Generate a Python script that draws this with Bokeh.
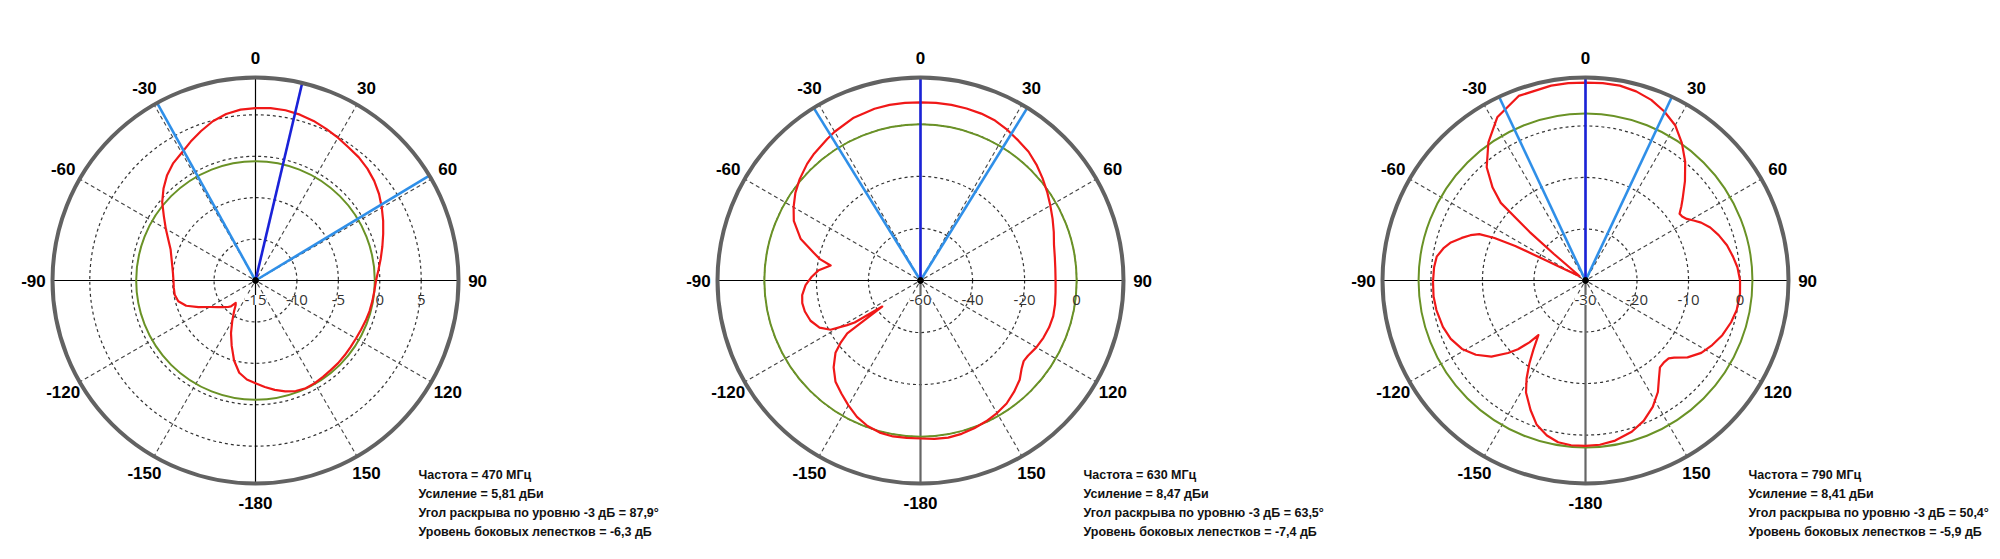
import numpy as np
from bokeh.plotting import figure
from bokeh.models import ColumnDataSource, LabelSet, Range1d
from bokeh.layouts import row
from bokeh.embed import file_html
from bokeh.resources import INLINE
from bokeh.core.properties import value

# ---------------- data ----------------
# angles in degrees, clockwise from 0 (top); levels in dB
ang_470 = [0, 5, 10, 15, 20, 25, 30, 35, 40, 45, 50, 55, 60, 65, 70, 75, 80, 85, 90, 95, 100,
           105, 110, 115, 120, 125, 130, 135, 140, 145, 150, 155, 160, 165, 170, 175, 180, 185,
           190, 195, 200, 205, 210, 215, 219, 221.6, 223.5, 226, 230, 235, 240, 245, 250, 255,
           260, 265, 270, 275, 280, 285, 290, 295, 300, 305, 310, 315, 320, 325, 330, 335, 340,
           345, 350, 355]
db_470 = [5.81, 5.88, 5.86, 5.72, 5.5, 5.2, 4.9, 4.6, 4.4, 4.1, 3.7, 3.2, 2.6, 2.0, 1.4, 0.85,
          0.35, -0.1, -0.45, -0.6, -0.68, -0.75, -0.85, -0.95, -1.0, -1.0, -0.95, -0.9, -0.88,
          -0.8, -0.7, -0.65, -0.8, -1.15, -1.6, -2.1, -2.6, -3.0, -3.7, -5.0, -6.6, -8.0, -9.4,
          -10.5, -11.2, -11.4, -10.7, -10.4, -10.0, -9.4, -8.6, -7.4, -6.1, -5.35, -5.1, -5.1,
          -5.1, -5.0, -4.8, -4.5, -4.1, -3.4, -2.5, -1.5, -0.3, 0.7, 1.6, 2.3, 2.8, 3.5, 4.2,
          4.9, 5.4, 5.7]

ang_630 = [0, 5, 10, 15, 20, 25, 30, 35, 40, 45, 50, 55, 60, 65, 70, 75, 80, 85, 90, 95, 100,
           105, 110, 115, 120, 125, 128, 131, 135, 140, 145, 150, 155, 160, 165, 170, 175, 180,
           185, 190, 195, 200, 205, 210, 215, 220, 225, 229.6, 232, 234.2, 235.8, 237.5, 238.7,
           241.3, 245, 249.9, 255, 259.2, 263, 267.7, 272, 275.8, 279.5, 282, 284.5, 289.2,
           295.2, 300, 305, 310, 315.8, 320, 326.6, 330, 337.7, 345, 350, 355]
db_630 = [8.47, 8.5, 8.5, 8.4, 8.25, 7.8, 6.8, 5.6, 4.6, 3.0, 1.2, -0.6, -2.4, -4.0, -5.5, -6.9,
          -7.6, -8.0, -8.1, -7.9, -7.5, -7.2, -7.4, -7.9, -8.6, -9.6, -9.7, -8.5, -6.1, -4.1,
          -2.3, -1.2, -0.3, 0.4, 1.0, 1.3, 1.1, 0.7, 0.7, 0.85, 0.5, -0.5, -2.2, -4.6, -7.0,
          -9.2, -12.8, -17.1, -21.0, -25.3, -42.2, -30.0, -27.0, -20.6, -17.2, -15.0, -14.0,
          -13.75, -14.2, -15.8, -18.2, -20.7, -25.0, -20.5, -17.7, -11.2, -6.2, -3.7, -1.3,
          0.6, 2.5, 3.6, 5.1, 6.0, 7.6, 8.3, 8.5, 8.5]

ang_790 = [0, 5, 10, 15, 20, 25, 30, 35, 40, 45, 50, 52.3, 54.6, 56.5, 58.7, 61, 63.4, 67, 71.2,
           76, 80.8, 85, 90, 95, 101, 106, 111.8, 117, 122, 127, 131, 133.1, 136, 139.4, 143,
           147, 152, 157.5, 163, 169.5, 175, 180, 185, 189.6, 194, 198.8, 203, 208, 211, 214,
           217, 220.8, 222.2, 224.5, 226.9, 231, 235.9, 241, 246.6, 252, 258.8, 264, 269.6,
           275, 279.1, 283, 285.8, 289, 291.5, 293.6, 295, 296.2, 297, 298, 300, 305, 308, 310,
           311, 312.5, 315, 318.9, 324.9, 331.6, 340.1, 350, 355]
db_790 = [8.41, 8.45, 8.4, 8.0, 7.3, 6.2, 4.8, 2.6, 0.1, -2.7, -5.4, -6.5, -7.6, -7.5, -7.0,
          -6.0, -4.9, -3.7, -2.7, -1.7, -1.0, -0.4, 0.0, 0.1, -0.1, -0.6, -1.4, -2.4, -3.5,
          -5.2, -7.2, -7.9, -8.0, -7.8, -6.3, -4.2, -2.2, -0.5, 0.7, 1.6, 2.0, 2.1, 2.1, 1.85,
          1.0, -0.5, -2.7, -5.4, -7.8, -10.5, -13.2, -16.0, -13.8, -11.3, -9.4, -6.5, -4.3,
          -2.6, -1.5, -0.9, -0.5, -0.35, -0.4, -0.5, -0.75, -1.8, -2.85, -4.6, -6.0, -7.5,
          -10.5, -14.8, -21.8, -24.7, -26.9, -28.6, -27.8, -22.0, -15.6, -7.7, -4.5, -0.83,
          2.78, 6.01, 8.1, 8.4, 8.45]

r_min = [-15, -60, -30]          # level at centre
r_max = [9.5, 18, 9.4]           # level at outer ring
ticks = [[-15, -10, -5, 0, 5], [-60, -40, -20, 0], [-30, -20, -10, 0]]
green_level = [-0.6, 0.0, 2.4]
beam_dir = [13.3, 0.0, 0.0]
hp_left = [-29.0, -31.75, -25.2]
hp_right = [58.9, 31.75, 25.2]

freq = ["470", "630", "790"]
gain = ["5,81", "8,47", "8,41"]
hpbw = ["87,9", "63,5", "50,4"]
sll = ["-6,3", "-7,4", "-5,9"]

angle_ticks = [0, 30, 60, 90, 120, 150, 180, 210, 240, 270, 300, 330]
angle_labels = ["0", "30", "60", "90", "120", "150", "-180", "-150", "-120", "-90", "-60", "-30"]

angles_all = [ang_470, ang_630, ang_790]
levels_all = [db_470, db_630, db_790]

# ---------------- drawing ----------------
R = 203.0                 # ring radius in px
widths = [673, 665, 660]
centres_x = [255, 247, 247]
CY = 280
H = 557


def polar(theta_deg, rn):
    t = np.radians(np.asarray(theta_deg, dtype=float))
    rn = np.asarray(rn, dtype=float)
    return rn * np.sin(t), rn * np.cos(t)


figs = []
for i in range(3):
    w = widths[i]
    CX = centres_x[i]
    lo, hi = r_min[i], r_max[i]
    norm = lambda v: (np.asarray(v, dtype=float) - lo) / (hi - lo)

    p = figure(width=w, height=H, output_backend="svg", toolbar_location=None,
               x_range=Range1d(-CX / R, (w - CX) / R),
               y_range=Range1d(-(H - CY) / R, CY / R),
               x_axis_location=None, y_axis_location=None, min_border=0)
    p.grid.visible = False
    p.outline_line_color = None
    p.background_fill_color = "white"
    p.border_fill_color = "white"

    # dashed level circles
    rings = [t for t in ticks[i] if t > lo]
    p.circle(x=[0] * len(rings), y=[0] * len(rings), radius=list(norm(rings)),
             fill_color=None, line_color="#333333", line_width=1.2, line_dash="3 3")

    # dashed spokes
    for a in [30, 60, 120, 150, 210, 240, 300, 330]:
        sx, sy = polar([a, a], [0.02, 1.0])
        p.line(sx, sy, line_color="#444444", line_width=1.1, line_dash="4 3")

    # axes lines
    p.line([-1, 1], [0, 0], line_color="black", line_width=1.2)
    p.line([0, 0], [0, 1], line_color="black", line_width=1.2)
    if i == 0:
        p.line([0, 0], [0, -1], line_color="black", line_width=1.2)
    else:
        p.line([0, 0], [0, -1], line_color="#666666", line_width=2.2)

    # green reference circle
    p.circle(x=[0], y=[0], radius=[float(norm(green_level[i]))], fill_color=None,
             line_color="#6a9226", line_width=2)

    # red pattern
    ang = list(angles_all[i]) + [angles_all[i][0] + 360]
    lev = list(levels_all[i]) + [levels_all[i][0]]
    px, py = polar(ang, norm(lev))
    p.line(px, py, line_color="#f01818", line_width=2.2, line_join="round")

    # beam lines
    for a, col in [(hp_left[i], "#2f8fe8"), (hp_right[i], "#2f8fe8"), (beam_dir[i], "#1a22d8")]:
        bx, by = polar([a, a], [0, 1.0])
        p.line(bx, by, line_color=col, line_width=2.6)

    # centre dot
    p.scatter(x=[0], y=[0], size=6, color="black")

    # outer ring
    p.circle(x=[0], y=[0], radius=[1.0], fill_color=None, line_color="#626262", line_width=4)

    # angle labels
    lx, ly = polar(angle_ticks, [1.094] * len(angle_ticks))
    src_a = ColumnDataSource(dict(x=lx, y=ly, t=angle_labels))
    p.add_layout(LabelSet(x="x", y="y", text="t", source=src_a, text_align="center",
                          text_baseline="middle", text_font=value("Liberation Sans"),
                          text_font_style="bold", text_font_size="17px", text_color="black"))

    # level tick labels (centre one on white background)
    tk = ticks[i]
    src_c = ColumnDataSource(dict(x=[float(norm(tk[0]))], y=[-19.5 / R], t=[str(tk[0])]))
    p.add_layout(LabelSet(x="x", y="y", text="t", source=src_c, text_align="center",
                          text_baseline="middle", text_font=value("Open Sans"),
                          text_font_size="15px", text_color="#333333",
                          background_fill_color="white", background_fill_alpha=1.0))
    src_t = ColumnDataSource(dict(x=list(norm(tk[1:])), y=[-19.5 / R] * (len(tk) - 1),
                                  t=[str(v) for v in tk[1:]]))
    p.add_layout(LabelSet(x="x", y="y", text="t", source=src_t, text_align="center",
                          text_baseline="middle", text_font=value("Open Sans"),
                          text_font_size="15px", text_color="#333333"))

    # info text
    lines = [f"Частота = {freq[i]} МГц",
             f"Усиление = {gain[i]} дБи",
             f"Угол раскрыва по уровню -3 дБ = {hpbw[i]}°",
             f"Уровень боковых лепестков = {sll[i]} дБ"]
    tx = 163 / R
    ty = [-(194 + k * 19) / R for k in range(4)]
    src_i = ColumnDataSource(dict(x=[tx] * 4, y=ty, t=lines))
    p.add_layout(LabelSet(x="x", y="y", text="t", source=src_i, text_align="left",
                          text_baseline="middle", text_font=value("Liberation Sans"),
                          text_font_style="bold", text_font_size="12.5px", text_color="#111111"))
    figs.append(p)

layout = row(*figs, spacing=0)
open("out.html", "w").write(file_html(layout, INLINE))
